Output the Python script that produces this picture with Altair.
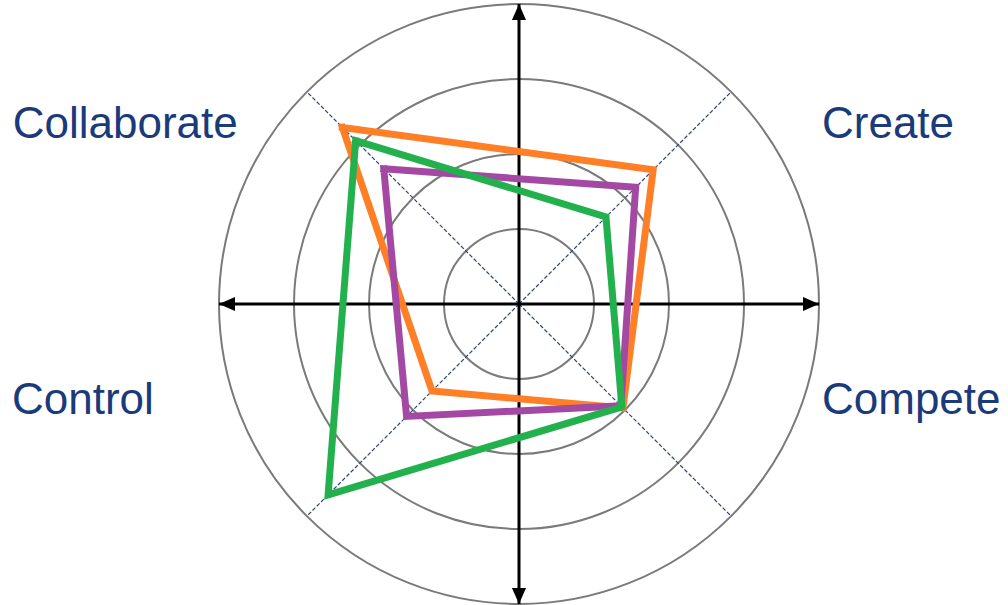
import math
import altair as alt
import pandas as pd

# Radar chart: four behaviour dimensions, three profiles
dimensions = ["Collaborate", "Create", "Compete", "Control"]
profiles = ["Profile A", "Profile B", "Profile C"]
profile_a = [3.33, 2.53, 1.96, 1.64]
profile_b = [2.55, 2.20, 1.92, 2.12]
profile_c = [3.08, 1.64, 1.94, 3.60]
rings = [1, 2, 3, 4]

# layout: direction of each dimension spoke (degrees, counter-clockwise from east)
spoke_angle = {"Collaborate": 135, "Create": 45, "Compete": 315, "Control": 225}
# label anchors in chart units (left edge, baseline)
label_pos = {
    "Collaborate": (-6.75, 2.22),
    "Create": (4.04, 2.21),
    "Compete": (4.04, -1.46),
    "Control": (-6.76, -1.46),
}
colors = ["#FF7F27", "#A349A4", "#22B14C"]
text_color = "#1B3A7A"

series_values = dict(zip(profiles, [profile_a, profile_b, profile_c]))
rows = []
for p in profiles:
    closed = dimensions + [dimensions[0]]
    vals = series_values[p] + [series_values[p][0]]
    for i, (d, v) in enumerate(zip(closed, vals)):
        rows.append({"profile": p, "dimension": d, "value": v,
                     "angle": spoke_angle[d], "step": i})
poly = pd.DataFrame(rows)

outer = rings[-1]
ring_df = pd.DataFrame({"ring": rings, "cx": 0.0, "cy": 0.0})
spokes = pd.DataFrame({"dimension": dimensions,
                       "angle": [spoke_angle[d] for d in dimensions],
                       "r": outer})
axis_lines = pd.DataFrame({"x": [-outer, 0], "x2": [outer, 0],
                           "y": [0, -outer], "y2": [0, outer]})
heads = pd.DataFrame({"x": [outer, -outer, 0, 0], "y": [0, 0, outer, -outer],
                      "rot": [0, 180, 270, 90]})
labels = pd.DataFrame({"dimension": dimensions,
                       "lx": [label_pos[d][0] for d in dimensions],
                       "ly": [label_pos[d][1] for d in dimensions]})

unit = 75.0
xs = alt.Scale(domain=[-519 / unit, 489 / unit], nice=False, zero=False)
ys = alt.Scale(domain=[-301 / unit, 304 / unit], nice=False, zero=False)

ring_layer = alt.Chart(ring_df).mark_arc(
    theta=0, theta2=2 * math.pi, filled=False, stroke="#7a7a7a", strokeWidth=2
).encode(
    x=alt.X("cx:Q", scale=xs, axis=None),
    y=alt.Y("cy:Q", scale=ys, axis=None),
    radius=alt.Radius("ring:Q", stack=None,
                      scale=alt.Scale(type="linear", domain=[0, outer],
                                      range=[0, outer * unit])),
)

spoke_layer = alt.Chart(spokes).transform_calculate(
    x0="0", y0="0",
    x1="datum.r * cos(datum.angle * PI / 180)",
    y1="datum.r * sin(datum.angle * PI / 180)",
).mark_rule(stroke="#34466f", strokeWidth=1.2, strokeDash=[4, 2]).encode(
    x=alt.X("x0:Q", scale=xs, axis=None), y=alt.Y("y0:Q", scale=ys, axis=None),
    x2="x1:Q", y2="y1:Q",
)

axis_layer = alt.Chart(axis_lines).mark_rule(color="black", strokeWidth=3).encode(
    x=alt.X("x:Q", scale=xs, axis=None), y=alt.Y("y:Q", scale=ys, axis=None),
    x2="x2:Q", y2="y2:Q",
)

head_layer = alt.Chart(heads).mark_point(
    shape="M0,0 L-1,-0.44 L-1,0.44 Z", filled=True, color="black", opacity=1,
    size=1024, strokeWidth=0,
).encode(
    x=alt.X("x:Q", scale=xs, axis=None), y=alt.Y("y:Q", scale=ys, axis=None),
    angle=alt.Angle("rot:Q", scale=None),
)

poly_layer = alt.Chart(poly).transform_calculate(
    px="datum.value * cos(datum.angle * PI / 180)",
    py="datum.value * sin(datum.angle * PI / 180)",
).mark_line(strokeWidth=7, strokeJoin="miter", strokeCap="square").encode(
    x=alt.X("px:Q", scale=xs, axis=None),
    y=alt.Y("py:Q", scale=ys, axis=None),
    color=alt.Color("profile:N", scale=alt.Scale(domain=profiles, range=colors),
                    legend=None),
    order="step:Q",
)

label_layer = alt.Chart(labels).mark_text(
    align="left", baseline="alphabetic", font="Liberation Sans", fontSize=44,
    color=text_color,
).encode(
    x=alt.X("lx:Q", scale=xs, axis=None), y=alt.Y("ly:Q", scale=ys, axis=None),
    text="dimension:N",
)

chart = alt.layer(
    ring_layer, spoke_layer, axis_layer, head_layer, poly_layer, label_layer
).properties(
    width=1008, height=605, padding=0,
    autosize=alt.AutoSizeParams(type="none"),
    background="white",
).configure_view(stroke=None)

chart.save("out.html", embed_options={"renderer": "svg", "actions": False})
